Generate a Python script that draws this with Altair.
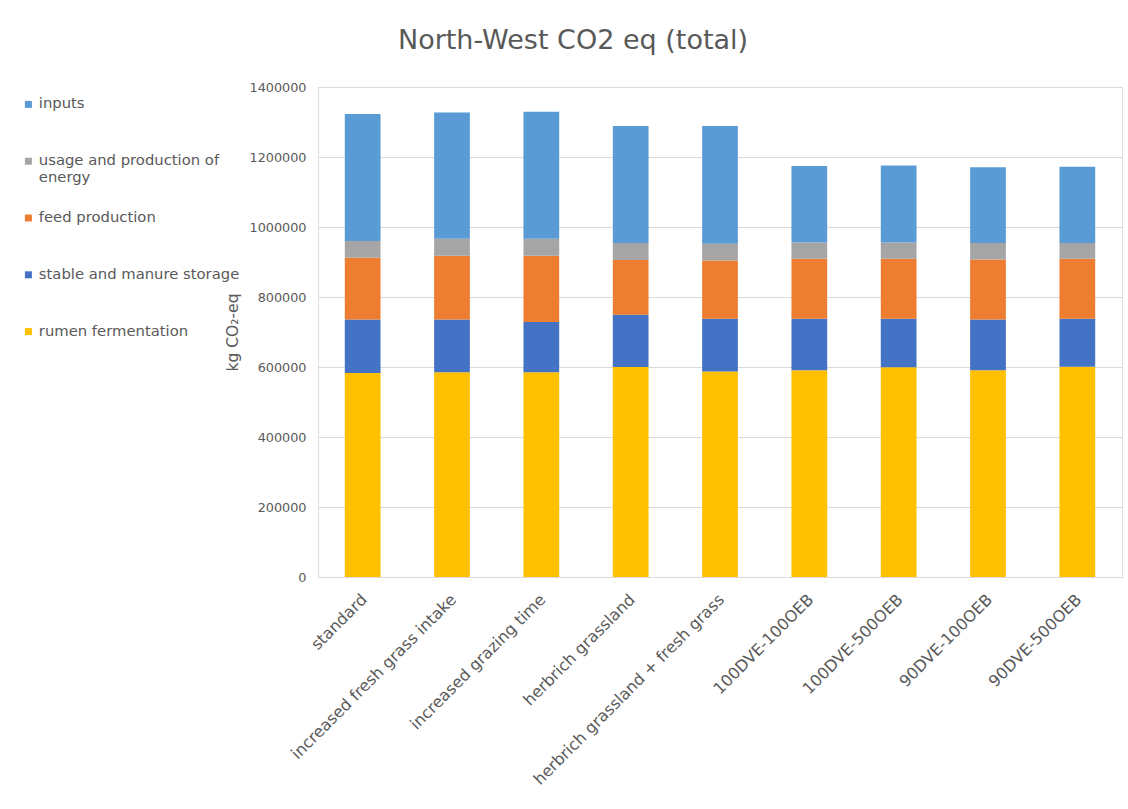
import altair as alt
import pandas as pd

# Scenarios on the x axis
scenarios = [
    "standard",
    "increased fresh grass intake",
    "increased grazing time",
    "herbrich grassland",
    "herbrich grassland + fresh grass",
    "100DVE-100OEB",
    "100DVE-500OEB",
    "90DVE-100OEB",
    "90DVE-500OEB",
]

# Emission sources, bottom of the stack first (kg CO2-eq)
rumen_fermentation = [583000, 585000, 585000, 600000, 587000, 591000, 599000, 591000, 601000]
stable_manure = [153000, 151000, 143500, 149500, 151000, 147000, 139000, 145000, 137000]
feed_production = [176000, 182000, 189500, 156000, 166000, 171500, 171500, 171500, 171500]
energy = [48000, 48500, 48500, 48500, 48500, 46500, 46500, 46500, 44500]
inputs = [363000, 361000, 363000, 334500, 336000, 218500, 220000, 216500, 218500]

sources = [
    ("rumen fermentation", rumen_fermentation),
    ("stable and manure storage", stable_manure),
    ("feed production", feed_production),
    ("usage and production of energy", energy),
    ("inputs", inputs),
]

legend_order = [
    "inputs",
    "usage and production of energy",
    "feed production",
    "stable and manure storage",
    "rumen fermentation",
]
colors = ["#5B9BD5", "#A5A5A5", "#ED7D31", "#4472C4", "#FFC000"]

rows = []
for stack_pos, (name, values) in enumerate(sources):
    for scen, v in zip(scenarios, values):
        rows.append({"scenario": scen, "source": name, "value": v, "stack": stack_pos})
df = pd.DataFrame(rows)

FONT = "DejaVu Sans"
TEXT = "#595959"
GRID = "#D9D9D9"

chart = (
    alt.Chart(df)
    .mark_bar()
    .encode(
        x=alt.X(
            "scenario:N",
            sort=scenarios,
            title=None,
            scale=alt.Scale(paddingInner=0.6, paddingOuter=0.3),
            axis=alt.Axis(
                labelAngle=-45,
                labelFontSize=16,
                labelColor=TEXT,
                labelFont=FONT,
                labelPadding=14,
                labelOffset=-4,
                labelLimit=400,
                ticks=False,
                domainColor=GRID,
                domainWidth=1,
                grid=False,
            ),
        ),
        y=alt.Y(
            "value:Q",
            stack="zero",
            title="kg CO₂-eq",
            scale=alt.Scale(domain=[0, 1400000], nice=False),
            axis=alt.Axis(
                values=[0, 200000, 400000, 600000, 800000, 1000000, 1200000, 1400000],
                format="d",
                labelFontSize=12.8,
                labelColor=TEXT,
                labelFont=FONT,
                labelPadding=12,
                ticks=False,
                domain=False,
                gridColor=GRID,
                gridWidth=1,
                titleFont=FONT,
                titleFontSize=15.5,
                titleFontWeight="normal",
                titleColor=TEXT,
                titlePadding=9,
            ),
        ),
        color=alt.Color(
            "source:N",
            scale=alt.Scale(domain=legend_order, range=colors),
            legend=alt.Legend(
                title=None,
                orient="none",
                legendX=-297,
                legendY=10,
                direction="vertical",
                symbolType="square",
                symbolSize=49,
                symbolStrokeWidth=0,
                labelFont=FONT,
                labelFontSize=14.8,
                labelColor=TEXT,
                labelLimit=260,
                labelOffset=3,
                rowPadding=24.8,
                gridAlign="all",
                padding=0,
                labelExpr="datum.label == 'usage and production of energy' ? ['usage and production of', 'energy'] : datum.label",
            ),
        ),
        order=alt.Order("stack:Q", sort="ascending"),
    )
    .properties(
        width=804,
        height=490,
        title=alt.TitleParams(
            "North-West CO2 eq (total)",
            font=FONT,
            fontSize=27,
            fontWeight="normal",
            color=TEXT,
            anchor="middle",
            dx=-147,
            offset=26,
        ),
        autosize=alt.AutoSizeParams(type="none"),
        padding={"left": 318, "top": 87, "right": 6, "bottom": 232},
    )
    .configure_view(stroke=None)
    .configure(background="white")
)

chart.save("out.html", embed_options={"renderer": "svg", "actions": False})
